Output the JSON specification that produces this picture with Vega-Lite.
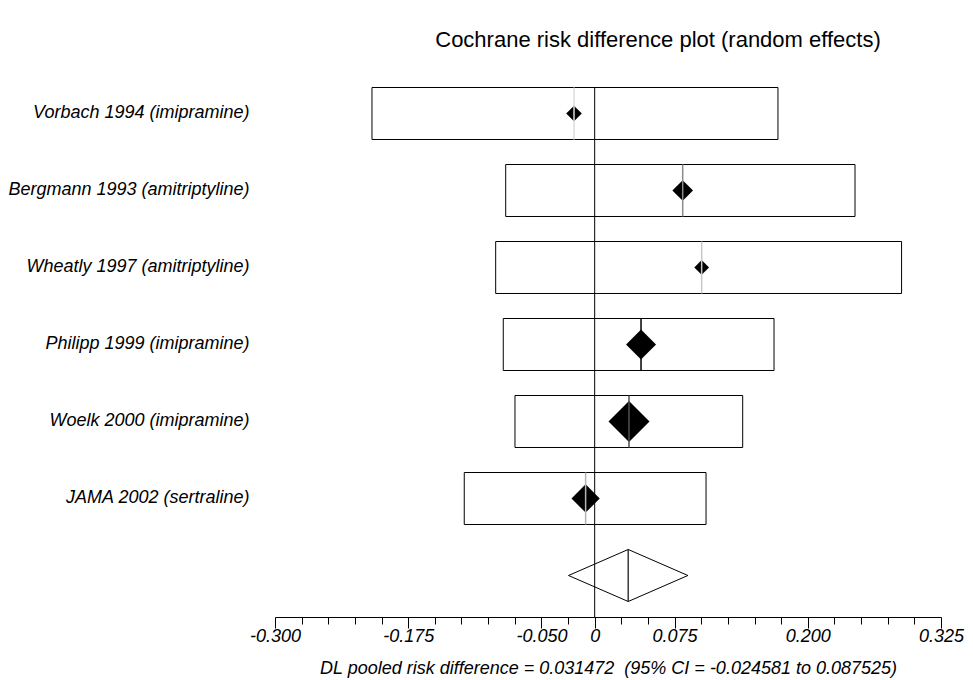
{
  "$schema": "https://vega.github.io/schema/vega-lite/v6.json",
  "autosize": {"type": "none"},
  "width": 666,
  "height": 542,
  "padding": {"left": 275, "top": 75, "right": 32, "bottom": 63},
  "background": "white",
  "config": {
    "view": {"stroke": null},
    "font": "Liberation Sans",
    "axis": {"labelFont": "Liberation Sans", "titleFont": "Liberation Sans"}
  },
  "title": {
    "text": "Cochrane risk difference plot (random effects)",
    "fontSize": 22,
    "fontWeight": "normal",
    "font": "Liberation Sans",
    "color": "black",
    "anchor": "middle",
    "dx": 50,
    "offset": 23
  },
  "data": {
    "values": [
      {"study": "Vorbach 1994 (imipramine)", "est": -0.0194, "lo": -0.209, "hi": 0.172, "weight": 5.7},
      {"study": "Bergmann 1993 (amitriptyline)", "est": 0.0826, "lo": -0.0835, "hi": 0.2443, "weight": 10.0},
      {"study": "Wheatly 1997 (amitriptyline)", "est": 0.1004, "lo": -0.0929, "hi": 0.288, "weight": 5.1},
      {"study": "Philipp 1999 (imipramine)", "est": 0.0435, "lo": -0.0858, "hi": 0.1683, "weight": 21.1},
      {"study": "Woelk 2000 (imipramine)", "est": 0.0322, "lo": -0.0748, "hi": 0.1389, "weight": 39.4},
      {"study": "JAMA 2002 (sertraline)", "est": -0.0085, "lo": -0.1224, "hi": 0.1045, "weight": 18.7},
      {"study": "DL pooled", "est": 0.031472, "lo": -0.024581, "hi": 0.087525}
    ]
  },
  "layer": [
    {
      "transform": [{"filter": "datum.weight != null"}],
      "mark": {"type": "bar", "fill": "white", "fillOpacity": 0, "stroke": "black", "strokeWidth": 1, "height": {"band": 0.675}},
      "encoding": {
        "x": {
          "field": "lo",
          "type": "quantitative",
          "scale": {"domain": [-0.3, 0.325], "nice": false, "zero": false},
          "axis": {
            "values": [-0.3, -0.275, -0.25, -0.225, -0.2, -0.175, -0.15, -0.125, -0.1, -0.075, -0.05, -0.025, 0, 0.025, 0.05, 0.075, 0.1, 0.125, 0.15, 0.175, 0.2, 0.225, 0.25, 0.275, 0.3, 0.325],
            "tickCount": 40,
            "labelExpr": "indexof([-0.3,-0.175,-0.05,0,0.075,0.2,0.325], datum.value) >= 0 ? (datum.value == 0 ? '0' : replace(format(datum.value, '.3f'), '−', '-')) : ''",
            "tickSize": {"condition": {"test": "indexof([-0.3,-0.175,-0.05,0,0.075,0.2,0.325], datum.value) >= 0", "value": 11}, "value": 7},
            "labelPadding": -1,
            "labelFontSize": 18,
            "labelFontStyle": "italic",
            "labelColor": "black",
            "labelOverlap": false,
            "labelFlush": false,
            "tickColor": "black",
            "domainColor": "black",
            "grid": false,
            "title": "DL pooled risk difference = 0.031472\u00a0 (95% CI = -0.024581 to 0.087525)",
            "titleFontSize": 18,
            "titleFontStyle": "italic",
            "titleFontWeight": "normal",
            "titleColor": "black",
            "titlePadding": 14
          }
        },
        "x2": {"field": "hi"},
        "y": {
          "field": "study",
          "type": "nominal",
          "sort": null,
          "scale": {"paddingInner": 0, "paddingOuter": 0.0195, "align": 0},
          "axis": {
            "title": null,
            "domain": false,
            "ticks": false,
            "labelPadding": 26,
            "labelFontSize": 18,
            "labelFontStyle": "italic",
            "labelColor": "black",
            "labelLimit": 400,
            "labelExpr": "datum.label == 'DL pooled' ? '' : datum.label"
          }
        }
      }
    },
    {
      "transform": [{"filter": "datum.study == 'Vorbach 1994 (imipramine)'"}],
      "mark": {"type": "rule", "color": "black", "strokeWidth": 1},
      "encoding": {
        "x": {"datum": 0, "type": "quantitative"},
        "y": {"field": "study", "type": "nominal", "sort": null, "bandPosition": 0.163},
        "y2": {"value": {"expr": "height"}}
      }
    },
    {
      "transform": [{"filter": "datum.weight != null"}],
      "mark": {"type": "point", "shape": "diamond", "filled": true, "color": "black", "opacity": 1, "strokeWidth": 0},
      "encoding": {
        "x": {"field": "est", "type": "quantitative"},
        "y": {"field": "study", "type": "nominal", "sort": null},
        "size": {"field": "weight", "type": "quantitative", "scale": {"domain": [0, 39.4], "range": [0, 1681]}, "legend": null}
      }
    },
    {
      "mark": {"type": "tick", "orient": "vertical", "size": 52, "thickness": 1.5, "opacity": 1},
      "encoding": {
        "x": {"field": "est", "type": "quantitative"},
        "y": {"field": "study", "type": "nominal", "sort": null},
        "color": {
          "field": "study",
          "type": "nominal",
          "legend": null,
          "scale": {
            "domain": ["Vorbach 1994 (imipramine)", "Bergmann 1993 (amitriptyline)", "Wheatly 1997 (amitriptyline)", "Philipp 1999 (imipramine)", "Woelk 2000 (imipramine)", "JAMA 2002 (sertraline)", "DL pooled"],
            "range": ["#dcdcdc", "#8c8c8c", "#c8c8c8", "#000000", "#505050", "#b4b4b4", "#3a3a3a"]
          }
        }
      }
    },
    {
      "transform": [{"filter": "datum.study == 'DL pooled'"}],
      "mark": {"type": "point", "shape": "M-1,0L0,-0.4355L1,0L0,0.4355Z", "size": 14256, "filled": false, "stroke": "black", "strokeWidth": 1, "opacity": 1},
      "encoding": {
        "x": {"field": "est", "type": "quantitative"},
        "y": {"field": "study", "type": "nominal", "sort": null}
      }
    }
  ]
}
